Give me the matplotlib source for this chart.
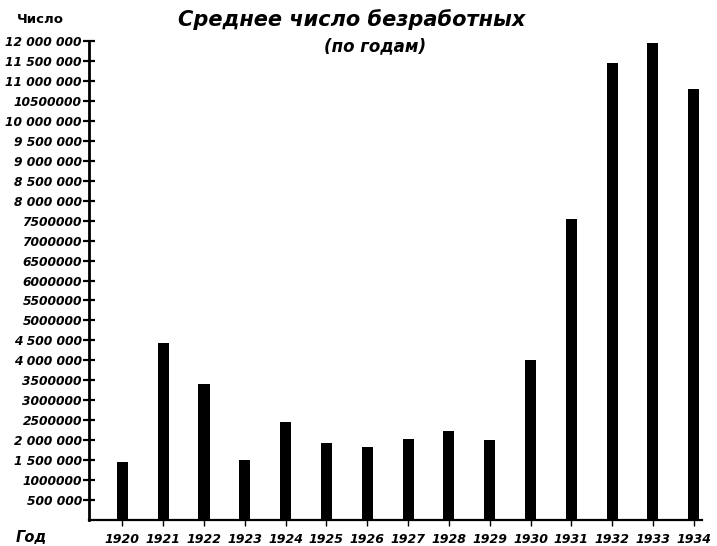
import matplotlib.pyplot as plt

# ── DATA ──────────────────────────────────────────────────────────────────────
YEARS = list(range(1920, 1935))
UNEMPLOYED = [
    1450000, 4430000, 3400000, 1500000, 2460000,
    1920000, 1840000, 2020000, 2240000, 2000000,
    4000000, 7540000, 11440000, 11960000, 10810000,
]
Y_TICKS = list(range(500000, 12000001, 500000))
Y_TICK_LABELS = [
    '500 000', '1000000', '1 500 000', '2 000 000', '2500000', '3000000',
    '3500000', '4 000 000', '4 500 000', '5000000', '5500000', '6000000',
    '6500000', '7000000', '7500000', '8 000 000', '8 500 000', '9 000 000',
    '9 500 000', '10 000 000', '10500000', '11 000 000', '11 500 000',
    '12 000 000',
]
TITLE = 'Среднее число безработных'
SUBTITLE = '(по годам)'
# ─────────────────────────────────────────────────────────────────────────────

FONT = ['DejaVu Sans']

fig = plt.figure(figsize=(7.17, 5.46), dpi=100)
ax = fig.add_axes([0.124, 0.0476, 0.855, 0.8773])

ax.bar(YEARS, UNEMPLOYED, width=0.27, color='black')

ax.set_xlim(1919.18, 1934.2)
ax.set_ylim(0, 12000000)

ax.set_yticks(Y_TICKS)
ax.set_yticklabels(Y_TICK_LABELS, family=FONT, fontsize=8.8,
                   fontstyle='italic', fontweight='bold')
ax.set_xticks(YEARS)
ax.set_xticklabels([str(y) for y in YEARS], family=FONT, fontsize=9,
                   fontstyle='italic', fontweight='bold')

ax.tick_params(axis='y', direction='inout', length=8, width=1.6, pad=1)
ax.tick_params(axis='x', direction='out', length=4, width=1.0, pad=5)

for side in ('top', 'right'):
    ax.spines[side].set_visible(False)
ax.spines['left'].set_linewidth(2.0)
ax.spines['bottom'].set_linewidth(1.6)

fig.text(0.491, 0.965, TITLE, family=FONT, fontsize=15, fontstyle='italic',
         fontweight='bold', ha='center', va='center')
fig.text(0.523, 0.915, SUBTITLE, family=FONT, fontsize=12, fontstyle='italic',
         fontweight='bold', ha='center', va='center')
fig.text(0.056, 0.965, 'Число', family=FONT, fontsize=9.5, fontweight='bold',
         ha='center', va='center')
fig.text(0.044, 0.016, 'Год', family=FONT, fontsize=10.5, fontstyle='italic',
         fontweight='bold', ha='center', va='center')

fig.savefig('out.png', dpi=100)
